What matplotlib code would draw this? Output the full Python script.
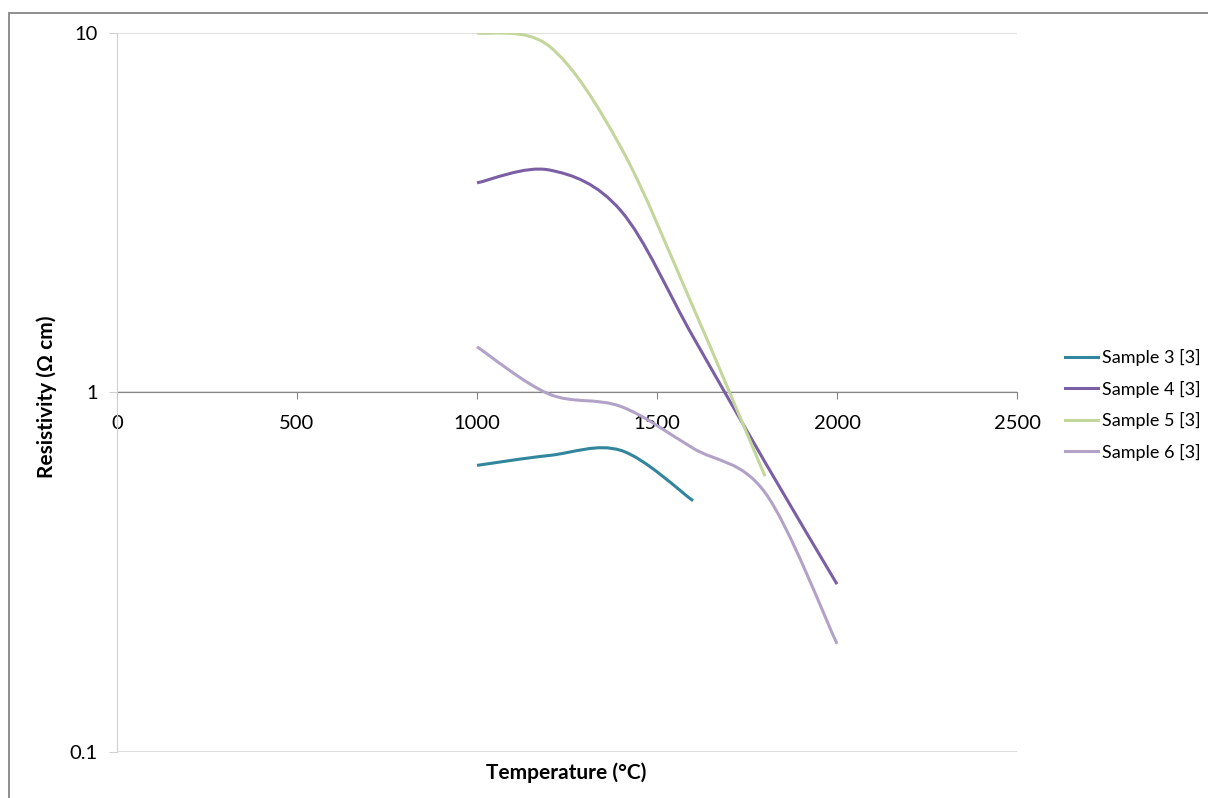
import numpy as np
import matplotlib
matplotlib.use("Agg")
import matplotlib.pyplot as plt
from matplotlib.path import Path
from matplotlib.patches import PathPatch, Rectangle
from matplotlib.lines import Line2D

plt.rcParams['font.family'] = ['Lato', 'DejaVu Sans']

# data
temp = [1000, 1200, 1400, 1600, 1800, 2000]
sample3 = [0.627, 0.668, 0.69, 0.50]
sample4 = [3.83, 4.16, 3.2, 1.43, 0.64, 0.293]
sample5 = [10.0, 9.2, 4.8, 1.73, 0.585]
sample6 = [1.34, 0.99, 0.914, 0.70, 0.527, 0.20]
names = ['Sample 3 [3]', 'Sample 4 [3]', 'Sample 5 [3]', 'Sample 6 [3]']
colors = ['#31859C', '#7A5FA5', '#C3D69B', '#B3A2C7']
xticks = [0, 500, 1000, 1500, 2000, 2500]
yticks = [0.1, 1, 10]


def smooth_path(xs, ys):
    # excel-like smoothed line: bezier control points worked out in log space
    p = np.column_stack([xs, np.log10(ys)])
    n = len(p)
    verts = [p[0]]
    codes = [Path.MOVETO]
    for i in range(n - 1):
        a = p[max(i - 1, 0)]
        b = p[i]
        c = p[i + 1]
        d = p[min(i + 2, n - 1)]
        c1 = b + (c - a) / 6.0
        c2 = c - (d - b) / 6.0
        verts += [c1, c2, c]
        codes += [Path.CURVE4] * 3
    v = np.array(verts)
    v[:, 1] = 10 ** v[:, 1]
    return Path(v, codes)


fig = plt.figure(figsize=(12.08, 7.98), dpi=100)
ax = fig.add_axes([117/1208, 1 - 752/798, 900/1208, 719/798])

series = [sample3, sample4, sample5, sample6]
for vals, col in zip(series, colors):
    pth = smooth_path(temp[:len(vals)], vals)
    ax.add_patch(PathPatch(pth, fill=False, edgecolor=col, lw=2.2,
                           capstyle='butt', joinstyle='round', zorder=3))

ax.set_yscale('log')
# x axis crosses at 1, like the excel original
ax.spines['bottom'].set_position(('data', 1))
ax.set_xlim(0, 2500)
ax.set_ylim(0.1, 10)
ax.set_xticks(xticks)
ax.set_xticklabels([str(t) for t in xticks])
ax.set_yticks(yticks)
ax.set_yticklabels(['0.1', '1', '10'])
ax.yaxis.set_minor_locator(matplotlib.ticker.NullLocator())
ax.grid(axis='y', which='major', color='#D9D9D9', lw=1.2)

ax.spines['bottom'].set_color('#868686')
ax.spines['bottom'].set_zorder(2)
ax.spines['left'].set_color('#D0D0D0')
ax.spines['top'].set_visible(False)
ax.spines['right'].set_visible(False)
ax.tick_params(axis='x', colors='#868686', labelcolor='black', length=5, pad=11,
               labelsize=14.5)
ax.tick_params(axis='y', colors='#D0D0D0', labelcolor='black', length=6, pad=8,
               labelsize=14.5)

fig.text(47/1208, 1 - 397/798, 'Resistivity (Ω cm)', rotation=90,
         ha='center', va='center', fontsize=15, fontweight='bold')
fig.text(566/1208, 1 - 773/798, 'Temperature (°C)', ha='center', va='center',
         fontsize=15, fontweight='bold')

handles = [Line2D([], [], color=c, lw=2.2) for c in colors]
fig.legend(handles, names, loc='center left', bbox_to_anchor=(1065/1208, 1 - 405/798),
           frameon=False, fontsize=13, handlelength=1.8, handletextpad=0.25,
           labelspacing=0.8, borderpad=0, borderaxespad=0)

# outer chart border
fig.patches.append(Rectangle((9/1208, -0.05), 1.2, 1.05 - 13/798, transform=fig.transFigure,
                             fill=False, edgecolor='#868686', lw=1.3))

fig.savefig('out.png', dpi=100)
